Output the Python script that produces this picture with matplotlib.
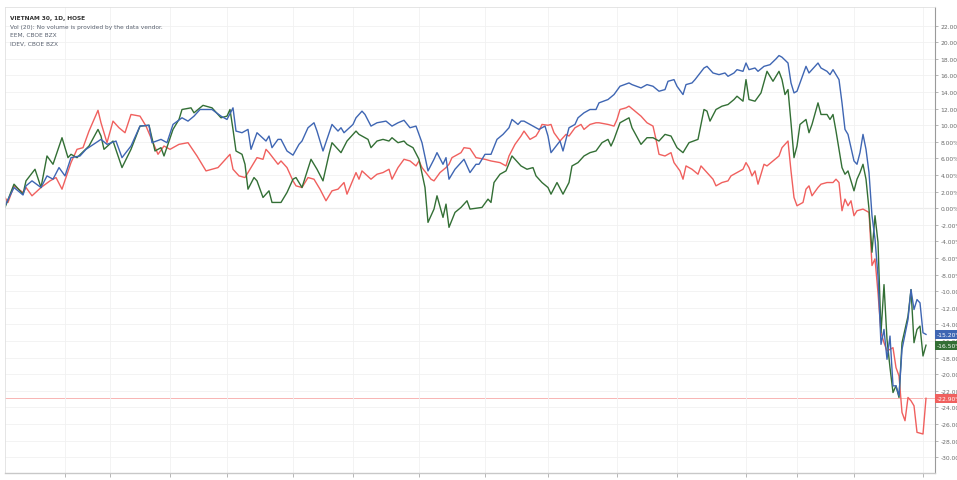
import matplotlib.pyplot as plt
import matplotlib.transforms as mtransforms
from matplotlib.ticker import FuncFormatter, FixedLocator

# trading day index -> % change since start
vn30_days = [0, 1, 3, 6, 7, 9, 12, 15, 17, 19, 22, 24, 26, 28, 31, 32, 34, 36, 38, 40,
             42, 45, 47, 51, 53, 55, 58, 61, 64, 67, 71, 75, 76, 78, 80, 82, 84, 86, 87, 88,
             91, 92, 94, 96, 97, 99, 101, 103, 105, 107, 109, 111, 113, 114, 117, 118, 119, 122, 124, 126,
             128, 129, 131, 133, 135, 137, 138, 139, 142, 143, 145, 147, 148, 149, 152, 153, 155, 157, 160, 162,
             165, 167, 168, 170, 172, 173, 175, 177, 178, 179, 181, 182, 183, 185, 187, 188, 190, 192, 193, 195,
             197, 198, 201, 203, 204, 205, 207, 208, 210, 212, 214, 216, 217, 218, 220, 222, 223, 225, 226, 227,
             229, 231, 232, 234, 236, 237, 239, 241, 242, 244, 246, 247, 248, 249, 250, 251, 253, 254, 256, 258,
             259, 261, 262, 263, 264, 266, 267, 268, 269, 271, 272, 274, 276, 277, 278, 279, 280, 281, 282, 283,
             284, 286, 288, 289, 290, 291, 292, 293, 294, 296, 297, 298, 299, 300, 301, 302, 303, 304, 306, 307]
vn30_vals = [1.3, 0.7, 2.7, 1.9, 2.5, 1.5, 2.5, 3.3, 3.7, 2.3, 5.5, 7.1, 7.3, 9.3, 11.8, 10.3, 7.9, 10.5, 9.7, 9.1,
             11.3, 11.1, 9.9, 6.5, 7.5, 7.1, 7.7, 7.9, 6.3, 4.5, 4.9, 6.5, 4.7, 3.9, 3.7, 4.9, 6.1, 5.9, 7.1, 6.7,
             5.3, 5.7, 4.9, 3.3, 2.7, 2.5, 3.7, 3.5, 2.3, 0.9, 2.1, 2.3, 3.1, 1.7, 4.3, 3.5, 4.5, 3.5, 4.1, 4.3,
             4.7, 3.5, 4.9, 5.9, 5.7, 5.1, 5.7, 4.9, 3.5, 3.3, 4.3, 4.9, 5.3, 6.1, 6.7, 7.3, 7.2, 6.1, 5.9, 5.7,
             5.5, 5.1, 6.3, 7.7, 8.7, 9.3, 8.3, 8.7, 9.3, 10.1, 10.0, 10.1, 9.1, 8.1, 8.9, 8.7, 9.7, 10.1, 9.5, 10.1,
             10.3, 10.3, 10.1, 9.9, 10.7, 11.9, 12.1, 12.3, 11.7, 11.1, 10.3, 9.9, 8.3, 6.5, 6.3, 6.7, 5.5, 4.5, 3.5, 5.1,
             4.7, 4.1, 5.1, 4.3, 3.5, 2.7, 3.1, 3.3, 3.9, 4.3, 4.7, 5.5, 4.9, 3.9, 4.5, 2.9, 5.3, 5.1, 5.7, 6.3,
             7.3, 8.1, 4.5, 1.3, 0.3, 0.7, 2.3, 2.7, 1.5, 2.5, 2.9, 3.1, 3.1, 3.5, 3.1, -0.3, 1.1, 0.3, 0.9, -0.9,
             -0.3, -0.1, -0.5, -6.9, -6.1, -10.2, -15.0, -16.2, -17.2, -16.8, -19.2, -20.2, -24.6, -25.6, -22.8, -23.2, -23.8, -27.0, -27.2, -22.9]

eem_days = [0, 3, 6, 7, 9, 12, 14, 16, 18, 20, 22, 25, 27, 32, 34, 37, 39, 42, 45, 48,
            49, 52, 54, 56, 59, 61, 63, 65, 69, 72, 74, 76, 77, 79, 81, 82, 84, 87, 88, 89,
            91, 92, 94, 96, 98, 99, 101, 103, 104, 106, 109, 111, 112, 113, 116, 117, 119, 120, 122, 124,
            127, 129, 131, 133, 135, 137, 139, 141, 143, 144, 146, 147, 148, 150, 152, 153, 155, 157, 158, 160,
            162, 164, 166, 168, 169, 171, 172, 173, 176, 178, 180, 181, 182, 185, 186, 188, 190, 191, 193, 195,
            197, 198, 201, 203, 205, 208, 209, 212, 214, 216, 218, 220, 221, 223, 224, 226, 227, 229, 230, 233,
            234, 236, 238, 240, 241, 243, 244, 246, 247, 248, 250, 251, 253, 255, 257, 258, 259, 261, 262, 263,
            264, 266, 267, 268, 271, 272, 274, 275, 276, 278, 279, 280, 281, 283, 284, 285, 286, 287, 288, 289,
            290, 291, 292, 293, 294, 295, 296, 297, 298, 299, 301, 302, 303, 304, 305, 306, 307]
eem_vals = [0.3, 2.5, 1.6, 2.7, 3.3, 2.5, 3.9, 3.5, 4.9, 3.9, 6.1, 6.3, 7.1, 8.3, 7.7, 8.1, 6.1, 7.5, 9.9, 10.0,
            7.9, 8.3, 7.9, 10.1, 10.9, 10.5, 11.1, 11.9, 11.9, 11.1, 10.7, 12.1, 9.3, 9.1, 9.5, 7.1, 9.1, 8.1, 8.7, 7.3,
            8.3, 8.3, 6.9, 6.4, 7.7, 8.1, 9.7, 10.3, 9.3, 6.9, 10.1, 9.3, 9.7, 9.1, 10.1, 10.9, 11.7, 11.3, 9.9, 10.3,
            10.5, 9.9, 10.3, 10.6, 9.7, 9.9, 7.9, 4.5, 5.9, 6.7, 5.3, 6.1, 3.5, 4.7, 5.5, 5.9, 4.3, 5.3, 5.3, 6.5,
            6.5, 8.3, 8.9, 9.7, 10.7, 10.1, 10.5, 10.5, 9.9, 9.5, 9.9, 8.7, 6.7, 8.1, 6.9, 9.7, 10.1, 10.9, 11.5, 11.9,
            11.9, 12.7, 13.1, 13.7, 14.7, 15.1, 14.9, 14.5, 14.9, 14.7, 14.1, 14.3, 15.3, 15.5, 14.7, 13.7, 14.9, 15.1, 15.5, 16.9,
            17.1, 16.3, 16.1, 16.3, 15.9, 16.3, 16.7, 16.5, 17.5, 16.7, 16.9, 16.5, 17.1, 17.3, 18.0, 18.4, 18.2, 17.5, 15.1, 13.9,
            14.1, 16.1, 17.1, 16.3, 17.5, 16.9, 16.5, 16.1, 16.7, 15.5, 12.7, 9.5, 8.9, 5.7, 5.3, 6.7, 8.9, 7.1, 4.3, -0.9,
            -3.7, -8.2, -16.4, -14.6, -18.2, -15.4, -21.4, -21.4, -22.6, -17.0, -13.4, -9.8, -12.2, -11.0, -11.4, -15.0, -15.2]

idev_days = [0, 3, 6, 7, 10, 12, 14, 16, 19, 21, 22, 24, 28, 31, 32, 33, 36, 39, 42, 45,
             48, 50, 52, 53, 56, 58, 59, 62, 63, 66, 69, 72, 74, 75, 76, 77, 79, 80, 81, 83,
             84, 86, 88, 89, 92, 94, 96, 97, 99, 102, 104, 106, 108, 109, 112, 114, 117, 118, 121, 122,
             124, 126, 128, 129, 131, 133, 134, 136, 138, 140, 141, 143, 144, 146, 147, 148, 150, 152, 154, 155,
             159, 161, 162, 163, 165, 167, 169, 171, 172, 174, 176, 177, 179, 181, 182, 184, 186, 188, 189, 191,
             193, 195, 197, 199, 201, 202, 203, 205, 206, 208, 209, 212, 214, 216, 218, 220, 222, 224, 226, 228,
             231, 233, 234, 235, 237, 239, 241, 243, 244, 246, 247, 248, 250, 252, 254, 256, 257, 258, 259, 260,
             261, 262, 263, 264, 265, 267, 268, 269, 271, 272, 274, 275, 276, 277, 279, 280, 281, 283, 284, 285,
             286, 287, 288, 289, 290, 291, 292, 293, 294, 295, 296, 297, 298, 299, 301, 302, 303, 304, 305, 306, 307]
idev_vals = [0.1, 2.9, 1.7, 3.3, 4.7, 2.5, 6.3, 5.3, 8.5, 6.1, 6.5, 6.1, 7.5, 9.5, 8.7, 7.1, 8.1, 4.9, 7.1, 9.9,
             10.0, 6.9, 7.3, 6.3, 9.5, 10.7, 11.9, 12.1, 11.5, 12.4, 12.1, 10.9, 11.1, 11.9, 9.5, 6.9, 6.5, 5.3, 2.3, 3.7,
             3.3, 1.3, 2.1, 0.7, 0.7, 1.9, 3.5, 3.7, 2.5, 5.9, 4.7, 3.3, 6.5, 7.9, 6.7, 8.1, 9.3, 8.9, 8.3, 7.3,
             8.1, 8.3, 8.1, 8.5, 7.9, 8.1, 7.7, 7.3, 5.9, 2.5, -1.7, -0.1, 1.5, -1.1, 0.5, -2.3, -0.5, 0.1, 0.9, -0.1,
             0.1, 1.1, 0.7, 3.1, 4.1, 4.5, 6.3, 5.5, 5.1, 4.7, 4.9, 3.9, 3.1, 2.5, 1.7, 3.1, 1.7, 3.1, 5.1, 5.5,
             6.3, 6.7, 6.9, 7.9, 8.3, 7.5, 8.3, 10.3, 10.5, 10.9, 9.7, 7.7, 8.5, 8.5, 8.1, 8.9, 8.7, 7.3, 6.7, 7.9,
             8.3, 11.9, 11.7, 10.5, 11.9, 12.3, 12.5, 13.1, 13.5, 12.9, 15.5, 13.1, 12.9, 13.9, 16.5, 15.3, 15.9, 16.5, 15.5, 13.7,
             14.3, 10.3, 6.1, 7.5, 10.1, 10.7, 9.1, 10.1, 12.7, 11.3, 11.3, 10.7, 11.3, 9.3, 4.9, 4.1, 4.5, 2.1, 3.5, 4.3,
             5.3, 3.5, -0.1, -5.3, -0.9, -4.1, -15.0, -9.2, -15.8, -19.2, -22.2, -21.4, -22.8, -16.2, -13.0, -9.8, -16.2, -14.6, -14.2, -17.8, -16.5]

month_ticks = [20, 35, 55, 74, 96, 116, 138, 160, 181, 204, 224, 247, 264, 283, 306]
pct_ticks = list(range(-30, 23, 2))

legend_lines = ["VIETNAM 30, 1D, HOSE",
                "Vol (20): No volume is provided by the data vendor.",
                "EEM, CBOE BZX",
                "IDEV, CBOE BZX"]

c_red = '#f0605e'
c_blue = '#3f66b3'
c_green = '#336f35'

fig = plt.figure(figsize=(9.57, 4.81), dpi=100)
ax = fig.add_axes([5 / 957, 1 - 474 / 481, 930 / 957, 466 / 481])

ax.plot(vn30_days, vn30_vals, color=c_red, lw=1.0)
ax.plot(idev_days, idev_vals, color=c_green, lw=1.0)
ax.plot(eem_days, eem_vals, color=c_blue, lw=1.0)

ax.set_xlim(0, 310)
ax.set_ylim(-31.9, 24.25)

ax.yaxis.tick_right()
ax.yaxis.set_major_locator(FixedLocator(pct_ticks))
ax.yaxis.set_major_formatter(FuncFormatter(lambda v, p: f"{v:.2f}%"))
ax.tick_params(axis='y', labelsize=4.3, colors='#9a9a9a', labelcolor='#6a6a6a', length=2.5, width=0.5, pad=1.5)
ax.set_xticks(month_ticks)
ax.set_xticklabels([])
ax.tick_params(axis='x', length=3, width=0.5, colors='#9a9a9a')

ax.grid(True, color='#f1f1f1', lw=0.6)
ax.axhline(0, color='#d3d3d3', lw=0.8, zorder=1)
ax.axhline(vn30_vals[-1], color=c_red, lw=0.6, alpha=0.55, zorder=1)

for side in ['top', 'left']:
    ax.spines[side].set_color('#e0e0e0')
    ax.spines[side].set_linewidth(0.6)
ax.spines['right'].set_color('#9a9a9a')
ax.spines['right'].set_linewidth(0.8)
ax.spines['bottom'].set_color('#c8c8c8')
ax.spines['bottom'].set_linewidth(1.0)

# last value tags on the price scale
trans = mtransforms.blended_transform_factory(ax.transAxes, ax.transData)
for val, col in [(eem_vals[-1], c_blue), (idev_vals[-1], c_green), (vn30_vals[-1], c_red)]:
    ax.text(1.002, val, f"{val:.2f}%", transform=trans, ha='left', va='center',
            fontsize=4.3, color='white', clip_on=False,
            bbox=dict(boxstyle='square,pad=0.35', fc=col, ec='none'))

for i, line in enumerate(legend_lines):
    ax.text(0.005, 0.983 - i * 0.0185, line, transform=ax.transAxes, ha='left', va='top',
            fontsize=4.2, color='#333333' if i == 0 else '#5a6270',
            fontweight='bold' if i == 0 else 'normal')

fig.savefig('out.png', dpi=100, facecolor='white')
